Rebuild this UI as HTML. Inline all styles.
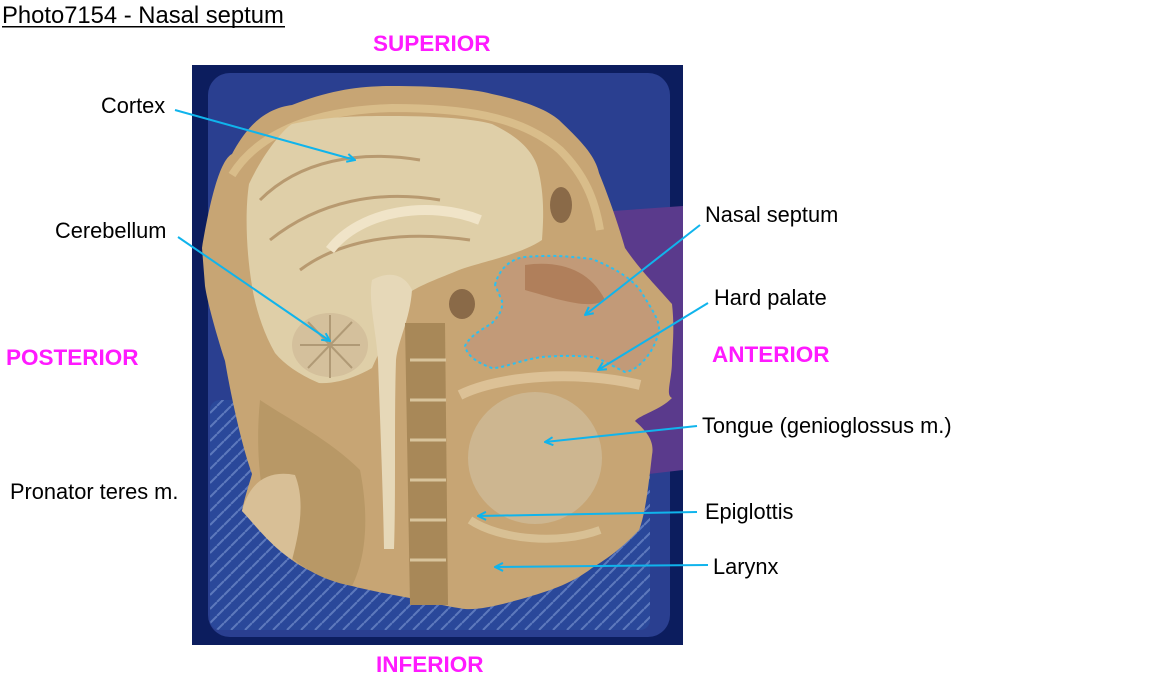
<!DOCTYPE html>
<html><head><meta charset="utf-8"><style>
html,body{margin:0;padding:0;background:#fff;}
svg{display:block;}
text{font-family:"Liberation Sans",Arial,sans-serif;}
.l{font-size:21.8px;fill:#000;}
.d{font-size:22.5px;font-weight:bold;fill:#ff1aff;}
.a{stroke:#10b4ec;stroke-width:2;fill:none;}
</style></head><body>
<svg width="1153" height="685" viewBox="0 0 1153 685" xmlns="http://www.w3.org/2000/svg">
<defs>
<marker id="ar" markerWidth="10" markerHeight="10" refX="9" refY="5" orient="auto" markerUnits="userSpaceOnUse">
<path d="M1,1 L9,5 L1,9" fill="none" stroke="#10b4ec" stroke-width="2"/>
</marker>
<pattern id="tp" width="14" height="14" patternUnits="userSpaceOnUse">
<rect width="14" height="14" fill="#2a4a9c"/>
<path d="M0,7 L7,0 M7,14 L14,7" stroke="#6a88c8" stroke-width="2"/>
</pattern>
</defs>
<text x="2" y="23" style="font-size:23.8px" fill="#000">Photo7154 - Nasal septum</text>
<rect x="2" y="26" width="283" height="1.5" fill="#000"/>

<!-- tray -->
<rect x="192" y="65" width="491" height="580" fill="#0c1d5e"/>
<rect x="208" y="73" width="462" height="564" rx="22" fill="#2a3f90"/>
<rect x="210" y="400" width="440" height="230" rx="10" fill="url(#tp)" opacity="0.8"/>

<!-- glove -->
<path d="M599,212 L683,206 L683,470 L640,475 L630,420 L650,330 L620,250 Z" fill="#5a3a8c"/>

<!-- head -->
<path d="M202,248 C210,200 220,160 232,154 C250,120 270,108 292,105 C330,90 360,86 392,86 C430,86 470,88 492,94 C520,100 545,108 559,120 C580,140 595,155 599,173 C610,200 620,230 625,248 C640,270 660,290 672,304 C675,330 672,350 672,361 C672,380 665,395 672,398 C660,410 640,415 635,421 C645,430 655,440 652,455 C648,490 645,515 639,530 C620,550 605,560 592,568 C570,585 545,592 525,598 C500,605 480,610 465,609 C445,606 432,603 425,601 C400,596 375,592 352,586 C325,578 305,570 292,560 C275,545 255,525 242,511 C245,495 250,482 252,474 C240,440 230,390 225,361 C215,330 207,300 205,286 Z" fill="#c7a574"/>
<path d="M232,175 C260,130 320,110 392,108 C460,108 520,115 560,150 C585,175 595,200 600,230" fill="none" stroke="#d9bd8a" stroke-width="8"/>

<!-- brain -->
<path d="M249,184 C265,150 285,128 292,124 C330,116 360,116 392,116 C430,116 470,118 492,124 C515,135 535,150 539,173 C545,200 543,225 542,240 C520,255 480,262 459,270 C440,278 420,285 409,293 C395,320 380,350 372,368 C355,378 335,384 319,383 C300,375 285,365 275,353 C262,330 255,305 252,286 C246,250 245,210 249,184 Z" fill="#dfcfa8"/>
<path d="M260,200 C300,160 360,150 420,160 M270,240 C320,200 380,190 440,200 M300,270 C340,240 400,230 470,240" fill="none" stroke="#b89a70" stroke-width="3"/>
<path d="M330,250 C360,210 430,200 480,220" fill="none" stroke="#f0e4c8" stroke-width="10"/>
<ellipse cx="330" cy="345" rx="38" ry="32" fill="#d4c09c"/>
<path d="M300,345 L360,345 M330,315 L330,378 M308,322 L352,368 M352,322 L308,368" stroke="#b09a76" stroke-width="2"/>
<path d="M372,280 C390,270 405,275 412,290 C410,320 398,340 396,360 C394,420 396,490 394,549 L384,549 C383,490 380,420 378,360 C376,330 368,300 372,280 Z" fill="#e6d8b8"/>
<path d="M405,323 L445,323 L448,605 L410,605 Z" fill="#a88858"/>
<path d="M410,360 L446,360 M410,400 L446,400 M410,440 L446,440 M410,480 L446,480 M410,520 L446,520 M410,560 L446,560" stroke="#d8c49c" stroke-width="3"/>
<path d="M260,400 C290,420 330,440 360,470 C370,520 365,560 352,586 C320,580 295,565 275,540 C260,500 255,450 260,400 Z" fill="#b89866"/>
<ellipse cx="561" cy="205" rx="11" ry="18" fill="#8a6a48"/>
<ellipse cx="462" cy="304" rx="13" ry="15" fill="#8a6a48"/>
<path d="M495,285 C500,265 515,258 525,257 C560,254 580,258 592,259 C620,270 635,282 642,293 C652,310 660,320 659,331 C655,350 640,370 625,372 C610,365 600,358 592,357 C570,355 555,356 542,357 C520,360 505,368 492,368 C475,362 467,355 465,346 C470,335 485,328 492,323 C500,315 503,308 502,301 Z" fill="#c29a78"/>
<path d="M525,265 C560,260 590,270 605,300 C590,310 560,300 525,290 Z" fill="#a8744e" opacity="0.7"/>
<path d="M495,285 C500,265 515,258 525,257 C560,254 580,258 592,259 C620,270 635,282 642,293 C652,310 660,320 659,331 C655,350 640,370 625,372 C610,365 600,358 592,357 C570,355 555,356 542,357 C520,360 505,368 492,368 C475,362 467,355 465,346 C470,335 485,328 492,323 C500,315 503,308 502,301 Z" fill="none" stroke="#2cc0f0" stroke-width="2" stroke-dasharray="3,3"/>
<path d="M460,395 C500,375 580,370 640,385" fill="none" stroke="#dcc196" stroke-width="10"/>
<ellipse cx="535" cy="458" rx="67" ry="66" fill="#cdb690"/>
<path d="M470,520 C500,540 560,545 600,530" fill="none" stroke="#d8c094" stroke-width="8"/>
<path d="M242,511 C250,480 270,470 295,475 C305,500 300,530 292,560 C270,545 255,525 242,511 Z" fill="#d8bf96"/>

<!-- labels -->
<text class="d" x="373" y="51">SUPERIOR</text>
<text class="d" x="6" y="365">POSTERIOR</text>
<text class="d" x="712" y="362">ANTERIOR</text>
<text class="d" x="376" y="672">INFERIOR</text>

<text class="l" x="101" y="113">Cortex</text>
<text class="l" x="55" y="238">Cerebellum</text>
<text class="l" x="10" y="499">Pronator teres m.</text>
<text class="l" x="705" y="222">Nasal septum</text>
<text class="l" x="714" y="305">Hard palate</text>
<text class="l" x="702" y="433">Tongue (genioglossus m.)</text>
<text class="l" x="705" y="519">Epiglottis</text>
<text class="l" x="713" y="574">Larynx</text>

<line class="a" x1="175" y1="110" x2="355" y2="160" marker-end="url(#ar)"/>
<line class="a" x1="178" y1="237" x2="330" y2="341" marker-end="url(#ar)"/>
<line class="a" x1="700" y1="225" x2="585" y2="315" marker-end="url(#ar)"/>
<line class="a" x1="708" y1="303" x2="598" y2="370" marker-end="url(#ar)"/>
<line class="a" x1="697" y1="426" x2="545" y2="442" marker-end="url(#ar)"/>
<line class="a" x1="697" y1="512" x2="478" y2="516" marker-end="url(#ar)"/>
<line class="a" x1="708" y1="565" x2="495" y2="567" marker-end="url(#ar)"/>
</svg>
</body></html>
